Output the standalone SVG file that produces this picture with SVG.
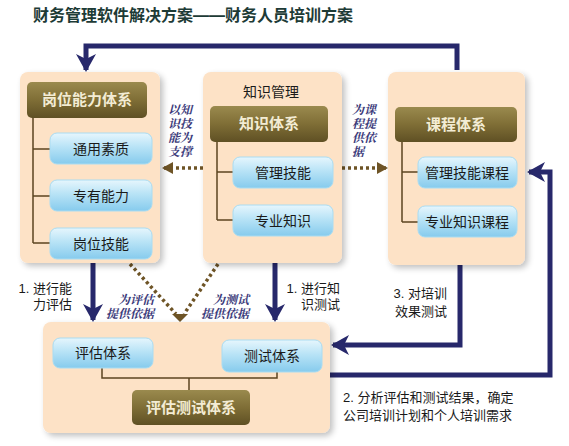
<svg xmlns="http://www.w3.org/2000/svg" width="569" height="446" viewBox="0 0 569 446">
<defs>
<linearGradient id="gHead" x1="0" y1="0" x2="0" y2="1">
<stop offset="0" stop-color="#9a8a4e"/><stop offset="0.5" stop-color="#7f6e36"/><stop offset="1" stop-color="#5f5024"/>
</linearGradient>
<linearGradient id="gSub" x1="0" y1="0" x2="0" y2="1">
<stop offset="0" stop-color="#e6f6fd"/><stop offset="0.45" stop-color="#b8e3f6"/><stop offset="1" stop-color="#86cbed"/>
</linearGradient>
<filter id="sh" x="-10%" y="-10%" width="130%" height="130%">
<feGaussianBlur in="SourceAlpha" stdDeviation="3"/><feOffset dx="3" dy="3"/>
<feComponentTransfer><feFuncA type="linear" slope="0.25"/></feComponentTransfer>
<feMerge><feMergeNode/><feMergeNode in="SourceGraphic"/></feMerge>
</filter>
<marker id="aNavy" markerUnits="userSpaceOnUse" markerWidth="22" markerHeight="22" refX="16" refY="10" orient="auto" viewBox="0 0 22 20">
<path d="M0,0 L18,10 L0,20 L5,10 Z" fill="#27286b"/>
</marker>
<marker id="aBrown" markerUnits="userSpaceOnUse" markerWidth="12" markerHeight="12" refX="9" refY="6" orient="auto" viewBox="0 0 12 12">
<path d="M0,0 L11,6 L0,12 Z" fill="#6e5426"/>
</marker>
</defs>
<style>
.panel{fill:#fde2c6;filter:url(#sh)}
.head{fill:url(#gHead)}
.sub{fill:url(#gSub);stroke:#a9dcf2;stroke-width:1}
.ht{font-family:"Liberation Sans","Noto Sans CJK SC",sans-serif;font-size:15px;fill:#f3ecd4;text-anchor:middle;font-weight:bold}
.st{font-family:"Liberation Sans","Noto Sans CJK SC",sans-serif;font-size:14px;fill:#1a1a1a;text-anchor:middle}
.tree{fill:none;stroke:#5c4420;stroke-width:1.5}
.navy{fill:none;stroke:#27286b;stroke-width:5}
.dot{fill:none;stroke:#6e5426;stroke-width:3.5;stroke-dasharray:3 3}
.lab{font-family:"Liberation Sans","Noto Sans CJK SC",sans-serif;font-size:13px;fill:#1a1a1a}
.note{font-family:"Liberation Serif","Noto Serif CJK SC","Noto Sans CJK SC",serif;font-size:12px;fill:#3b3a7a;font-style:italic;font-weight:bold}
</style>
<rect width="569" height="446" fill="#ffffff"/>
<text x="33" y="21" font-family="Liberation Sans, Noto Sans CJK SC, sans-serif" font-size="16" font-weight="bold" fill="#1d3b36">财务管理软件解决方案——财务人员培训方案</text>

<g id="connectors">
<path class="navy" d="M457,70 V46 H86 V70" marker-end="url(#aNavy)"/>
<path class="navy" d="M93,263 V320" marker-end="url(#aNavy)"/>
<path class="navy" d="M275,263 V320" marker-end="url(#aNavy)"/>
<path class="navy" d="M460,265 V345 H333" marker-end="url(#aNavy)"/>
<path class="navy" d="M330,375 H550 V172 H529" marker-end="url(#aNavy)"/>
<path class="dot" d="M203,168 H164" marker-end="url(#aBrown)"/>
<path class="dot" d="M342,168 H386" marker-end="url(#aBrown)"/>
<path class="dot" d="M130,264 L176,314"/>
<path class="dot" d="M218,264 L184,314"/>
<path d="M172,314 L188,314 L180,322 Z" fill="#6e5426"/>
</g>

<g id="panel-post">
<rect class="panel" x="20" y="72" width="140" height="191" rx="8"/>
<rect class="head" x="27" y="82" width="120" height="36" rx="5"/>
<text class="ht" x="87" y="105">岗位能力体系</text>
<path class="tree" d="M33,118 V243 M33,149 H50 M33,196 H50 M33,243 H50"/>
<g id="n-tongyong"><rect class="sub" x="50" y="133" width="102" height="31" rx="7"/><text class="st" x="101" y="154">通用素质</text></g>
<g id="n-zhuanyou"><rect class="sub" x="50" y="180" width="102" height="31" rx="7"/><text class="st" x="101" y="201">专有能力</text></g>
<g id="n-gangwei"><rect class="sub" x="50" y="228" width="102" height="31" rx="7"/><text class="st" x="101" y="249">岗位技能</text></g>
</g>

<g id="panel-knowledge">
<rect class="panel" x="203" y="72" width="139" height="191" rx="8"/>
<text class="st" x="271" y="97">知识管理</text>
<rect class="head" x="210" y="106" width="118" height="36" rx="5"/>
<text class="ht" x="269" y="129">知识体系</text>
<path class="tree" d="M217,142 V220 M217,172 H233 M217,220 H233"/>
<g id="n-guanli"><rect class="sub" x="233" y="157" width="100" height="31" rx="7"/><text class="st" x="283" y="178">管理技能</text></g>
<g id="n-zhuanye"><rect class="sub" x="233" y="205" width="100" height="31" rx="7"/><text class="st" x="283" y="226">专业知识</text></g>
</g>

<g id="panel-course">
<rect class="panel" x="388" y="72" width="137" height="193" rx="8"/>
<rect class="head" x="395" y="107" width="122" height="35" rx="5"/>
<text class="ht" x="456" y="130">课程体系</text>
<path class="tree" d="M402,142 V222 M402,172 H418 M402,222 H418"/>
<g id="n-glkc"><rect class="sub" x="418" y="157" width="99" height="31" rx="7"/><text class="st" x="467" y="178">管理技能课程</text></g>
<g id="n-zykc"><rect class="sub" x="418" y="206" width="99" height="31" rx="7"/><text class="st" x="467" y="227">专业知识课程</text></g>
</g>

<g id="panel-eval">
<rect class="panel" x="43" y="322" width="287" height="111" rx="8"/>
<path class="tree" d="M102,368 V378 H277 V372 M189,378 V390"/>
<g id="n-pinggu"><rect class="sub" x="53" y="338" width="100" height="30" rx="7"/><text class="st" x="103" y="358">评估体系</text></g>
<g id="n-ceshi"><rect class="sub" x="222" y="340" width="100" height="32" rx="7"/><text class="st" x="272" y="361">测试体系</text></g>
<rect class="head" x="132" y="390" width="118" height="35" rx="5"/>
<text class="ht" x="191" y="413">评估测试体系</text>
</g>

<g id="labels">
<text class="lab" text-anchor="end" x="72" y="293">1. 进行能<tspan x="72" dy="16">力评估</tspan></text>
<text class="lab" text-anchor="end" x="340" y="293">1. 进行知<tspan x="340" dy="16">识测试</tspan></text>
<text class="lab" text-anchor="end" x="447" y="298">3. 对培训<tspan x="447" dy="18">效果测试</tspan></text>
<text class="lab" x="343" y="402">2. 分析评估和测试结果，确定<tspan x="343" dy="18">公司培训计划和个人培训需求</tspan></text>
<text class="note" x="168" y="114">以知<tspan x="168" dy="14">识技</tspan><tspan x="168" dy="14">能为</tspan><tspan x="168" dy="14">支撑</tspan></text>
<text class="note" x="352" y="114">为课<tspan x="352" dy="14">程提</tspan><tspan x="352" dy="14">供依</tspan><tspan x="352" dy="14">据</tspan></text>
<text class="note" text-anchor="end" x="154" y="304">为评估<tspan x="154" dy="14">提供依据</tspan></text>
<text class="note" text-anchor="end" x="249" y="304">为测试<tspan x="249" dy="14">提供依据</tspan></text>
</g>
</svg>
